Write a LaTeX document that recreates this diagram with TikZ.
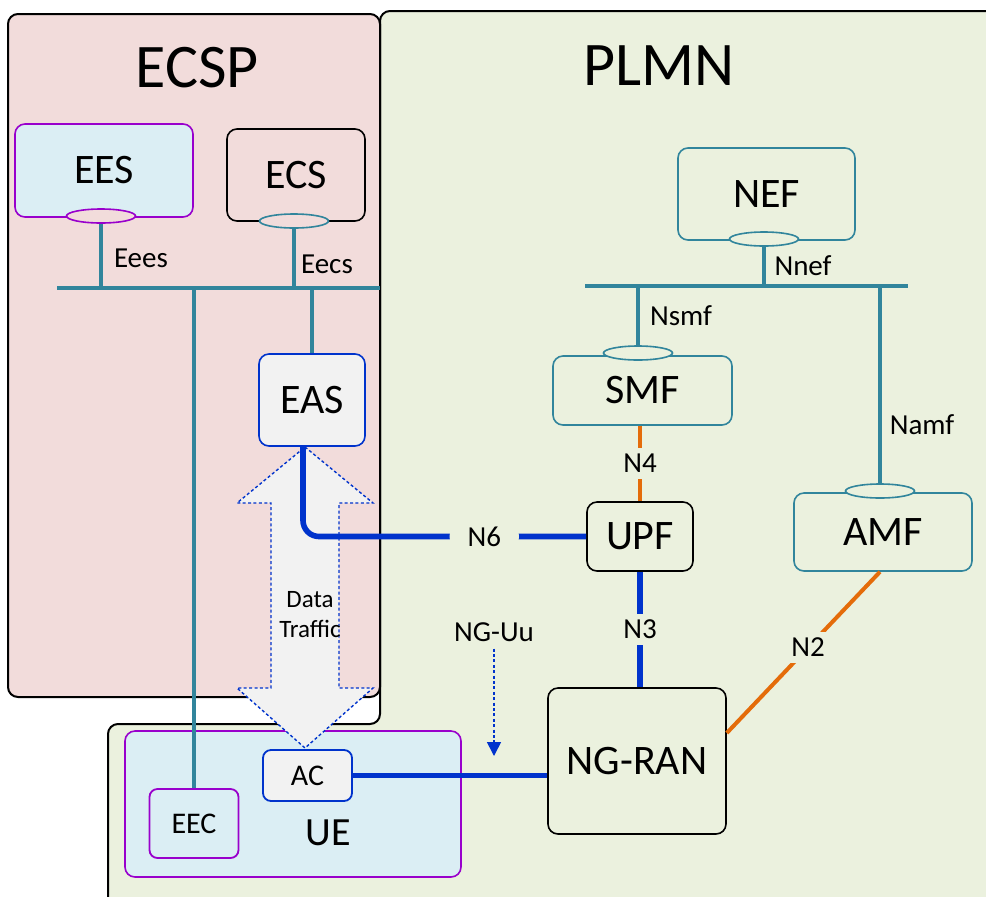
\documentclass[tikz,border=0pt]{standalone}
\usepackage{fontspec}
\setmainfont{Carlito}
\usepackage{tikz}
\usetikzlibrary{shapes.geometric,arrows.meta,positioning,calc}
\usepackage{xcolor}
\definecolor{ecsppink}{RGB}{242,220,219}
\definecolor{plmngreen}{RGB}{235,241,222}
\definecolor{uefill}{RGB}{219,238,244}
\definecolor{nfteal}{RGB}{49,133,156}
\definecolor{eecpurple}{RGB}{153,0,204}
\definecolor{upblue}{RGB}{0,51,204}
\definecolor{cporange}{RGB}{228,108,10}
\definecolor{asgrey}{RGB}{242,242,242}

\tikzset{
  nfbox/.style={draw=nfteal, line width=0.8pt, rounded corners=5pt, fill=plmngreen, text=black, inner sep=0pt, font=\fontsize{21}{25}\selectfont},
  smallbox/.style={nfbox, rounded corners=4pt, line width=0.9pt, font=\fontsize{15}{18}\selectfont},
  port/.style={ellipse, draw=nfteal, line width=0.8pt, minimum width=34.5pt, minimum height=7pt, inner sep=0pt},
  bus/.style={nfteal, line width=2pt},
  refpt/.style={nfteal, line width=1.8pt},
  uplane/.style={upblue, line width=2.8pt},
  cplane/.style={cporange, line width=2pt},
  iflabel/.style={text=black, font=\fontsize{14.5}{17}\selectfont},
  gaplabel/.style={iflabel, fill=plmngreen, inner sep=3pt},
  domaintitle/.style={text=black, font=\fontsize{31}{37}\selectfont},
}

\begin{document}
\begin{tikzpicture}[x=0.5pt, y=-0.5pt]
\useasboundingbox (0,0) rectangle (986,896);

\draw[fill=plmngreen, line width=1pt, rounded corners=5pt] (380,11) -- (1010,11) -- (1010,920) -- (108,920) -- (108,724) -- (380,724) -- cycle;
\draw[fill=ecsppink, line width=1pt, rounded corners=5pt] (8,14) rectangle (380,697);

\node[domaintitle] (ecsptitle) at (197,68) {ECSP};
\node[domaintitle] (plmntitle) at (659,66) {PLMN};

\node[nfbox, draw=eecpurple, fill=uefill, minimum width=168pt, minimum height=73pt] (ue) at (293,804) {};
\node[text=black, font=\fontsize{20}{24}\selectfont] (uename) at (328,833) {UE};

\draw[upblue, line width=0.7pt, dash pattern=on 1.5pt off 1.2pt, fill=asgrey]
  (305,447) -- (373,503) -- (339,503) -- (339,688) -- (373,688) -- (305,748)
  -- (237,688) -- (271,688) -- (271,503) -- (237,503) -- cycle;
\node[text=black, align=center, font=\fontsize{12.5}{15}\selectfont] (traffic) at (310,615) {Data\\Traffic};

\node[nfbox, draw=eecpurple, fill=uefill, minimum width=89pt, minimum height=46.5pt] (ees) at (104,170.5) {EES};
\node[nfbox, draw=black, fill=ecsppink, minimum width=69pt, minimum height=46pt] (ecs) at (296,175) {ECS};
\node[nfbox, draw=upblue, fill=asgrey, minimum width=53pt, minimum height=46pt] (eas) at (312,400) {EAS};
\node[nfbox, minimum width=88.5pt, minimum height=46pt] (nef) at (766.5,194) {NEF};
\node[nfbox, minimum width=89.5pt, minimum height=34.5pt] (smf) at (642.5,390.5) {SMF};
\node[nfbox, draw=black, minimum width=53pt, minimum height=34.5pt] (upf) at (640,536.5) {UPF};
\node[nfbox, minimum width=89pt, minimum height=39pt] (amf) at (883,532) {AMF};
\node[nfbox, draw=black, minimum width=89pt, minimum height=73pt] (ngran) at (637,761) {NG-RAN};
\node[smallbox, draw=upblue, fill=asgrey, minimum width=44.5pt, minimum height=25.5pt] (ac) at (307.5,775.5) {AC};
\node[smallbox, draw=eecpurple, fill=uefill, minimum width=44.5pt, minimum height=34.5pt] (eec) at (194,823.5) {EEC};

\node[port, draw=eecpurple, fill=ecsppink] (eesport) at (101,216) {};
\node[port, fill=ecsppink] (ecsport) at (294,221) {};
\node[port, fill=plmngreen] (nefport) at (764,239) {};
\node[port, fill=plmngreen] (smfport) at (638,353) {};
\node[port, fill=plmngreen] (amfport) at (880,491) {};

\coordinate (ecspbusw) at (57,288);
\coordinate (ecspbuse) at (380,288);
\coordinate (plmnbusw) at (585,286);
\coordinate (plmnbuse) at (908,286);
\draw[bus] (ecspbusw) -- (ecspbuse);
\draw[bus] (plmnbusw) -- (plmnbuse);

\draw[refpt] (eesport.south) -- (eesport.south |- ecspbusw);
\draw[refpt] (ecsport.south) -- (ecsport.south |- ecspbusw);
\draw[refpt] (eas.north |- ecspbusw) -- (eas.north);
\draw[refpt] (eec.north |- ecspbusw) -- (eec.north);
\draw[refpt] (nefport.south) -- (nefport.south |- plmnbusw);
\draw[refpt] (smfport.north |- plmnbusw) -- (smfport.north);
\draw[refpt] (amfport.north |- plmnbusw) -- (amfport.north);

\node[iflabel] (eees) at (141,258) {Eees};
\node[iflabel] (eecs) at (327,264) {Eecs};
\node[iflabel] (nnef) at (803,266) {Nnef};
\node[iflabel] (nsmf) at (681,316) {Nsmf};
\node[iflabel] (namf) at (922,425) {Namf};

\draw[uplane, rounded corners=8pt] ([xshift=-4.5pt]eas.south) |- node[gaplabel, pos=0.82, inner xsep=9pt] {N6} (upf.west);
\draw[cplane] (upf.north |- smf.south) -- node[gaplabel] {N4} (upf.north);
\draw[uplane] (upf.south) -- node[gaplabel] {N3} (upf.south |- ngran.north);
\draw[cplane] ([xshift=-1.5pt]amf.south) -- node[gaplabel, pos=0.47] {N2} ([yshift=14pt]ngran.east);
\draw[uplane] (ac.east) -- (ac.east -| ngran.west);

\node[iflabel] (nguu) at (494,632) {NG-Uu};
\coordinate (nguutip) at (494,756);
\draw[upblue, line width=0.8pt, dash pattern=on 1.5pt off 1.2pt, -{Triangle[width=7pt,length=7pt]}] (nguu.south) -- (nguutip);
\end{tikzpicture}
\end{document}
